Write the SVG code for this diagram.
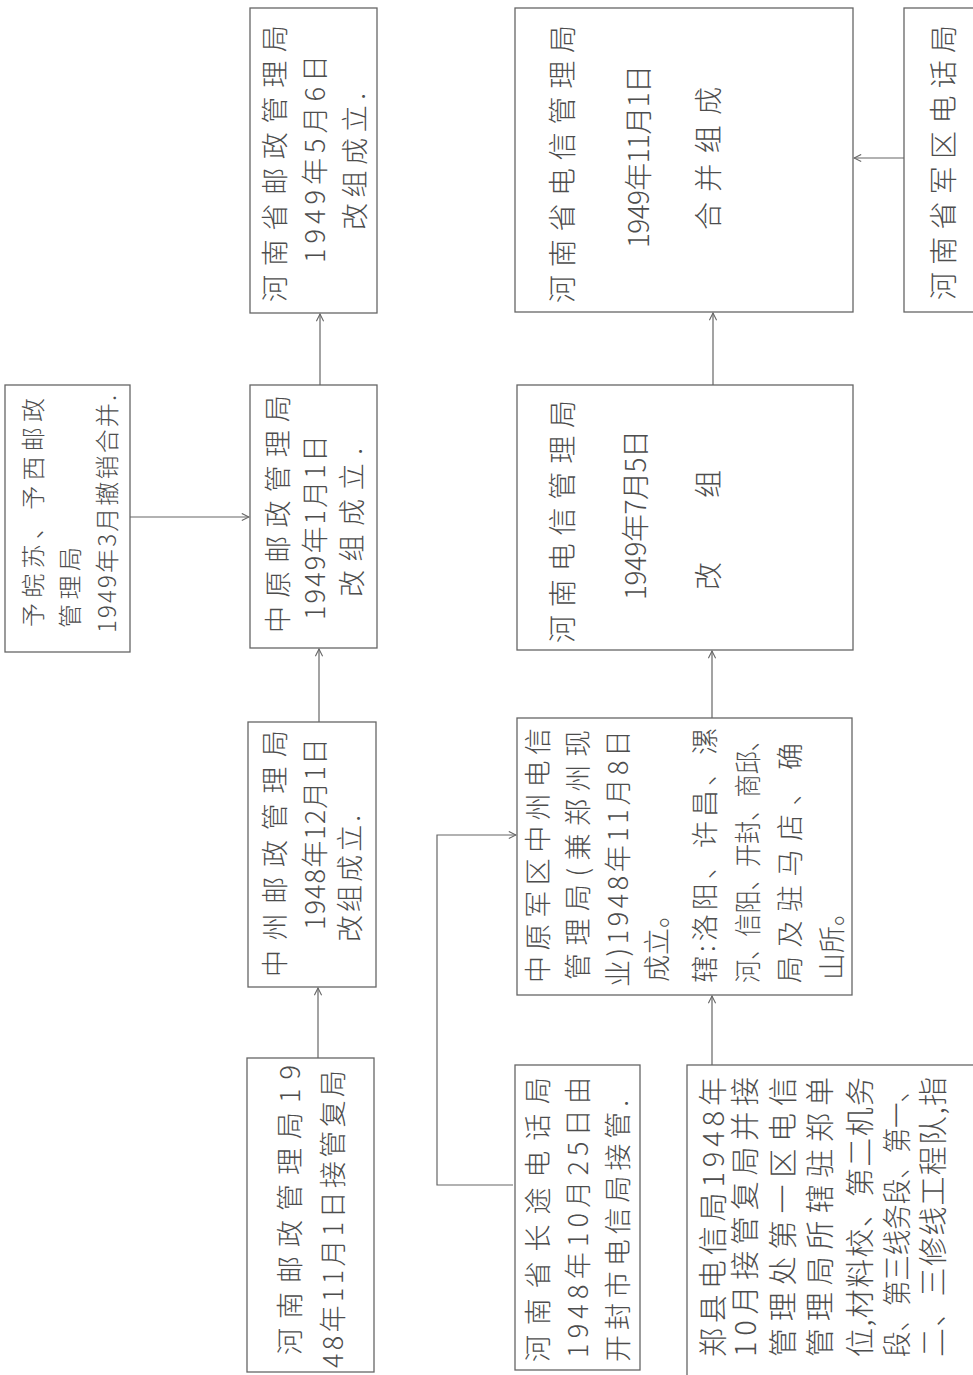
<svg xmlns="http://www.w3.org/2000/svg" width="973" height="1375" viewBox="0 0 973 1375">
<style>
.bg{fill:#ffffff}
.box{fill:none;stroke:#666;stroke-width:1.3}
.t{font-family:"Noto Sans CJK SC","Noto Sans CJK TC",sans-serif;fill:#4d4d4d;font-weight:300}
.s24{font-size:24px}
.s27{font-size:27px}
.s28{font-size:28px}
.s29{font-size:29px}
.c{fill:none;stroke:#666;stroke-width:1.2;marker-end:url(#ah)}
</style>
<defs>
<marker id="ah" viewBox="0 0 10 10" refX="9" refY="5" markerWidth="9" markerHeight="9" markerUnits="userSpaceOnUse" orient="auto">
<path d="M1,1 L9,5 L1,9" fill="none" stroke="#666" stroke-width="1.2"/>
</marker>
</defs>
<rect class="bg" x="0" y="0" width="973" height="1375"/>

<g id="n_yuwansu">
<rect class="box" x="5" y="385" width="125" height="267"/>
<text class="t s24" transform="translate(42,627) rotate(-90)" textLength="229" lengthAdjust="spacing">予皖苏、予西邮政</text>
<text class="t s24" transform="translate(79,628) rotate(-90)" textLength="81" lengthAdjust="spacing">管理局</text>
<text class="t s24" transform="translate(116,633) rotate(-90)" textLength="238" lengthAdjust="spacing">1949年3月撤销合并.</text>
</g>

<g id="n_henan_post_1949">
<rect class="box" x="250" y="8" width="127" height="305"/>
<text class="t s27" transform="translate(285,302) rotate(-90)" textLength="277" lengthAdjust="spacing">河南省邮政管理局</text>
<text class="t s27" transform="translate(325,263) rotate(-90)" textLength="208" lengthAdjust="spacing">1949年5月6日</text>
<text class="t s27" transform="translate(365,230) rotate(-90)" textLength="137" lengthAdjust="spacing">改组成立.</text>
</g>

<g id="n_zhongyuan_post">
<rect class="box" x="250" y="385" width="127" height="263"/>
<text class="t s27" transform="translate(288,633) rotate(-90)" textLength="238" lengthAdjust="spacing">中原邮政管理局</text>
<text class="t s27" transform="translate(325,620) rotate(-90)" textLength="185" lengthAdjust="spacing">1949年1月1日</text>
<text class="t s27" transform="translate(362,597) rotate(-90)" textLength="149" lengthAdjust="spacing">改组成立.</text>
</g>

<g id="n_zhongzhou_post">
<rect class="box" x="248" y="722" width="128" height="265"/>
<text class="t s27" transform="translate(285,977) rotate(-90)" textLength="247" lengthAdjust="spacing">中州邮政管理局</text>
<text class="t s27" transform="translate(325,930) rotate(-90)" textLength="192" lengthAdjust="spacing">1948年12月1日</text>
<text class="t s27" transform="translate(360,942) rotate(-90)" textLength="127" lengthAdjust="spacing">改组成立.</text>
</g>

<g id="n_henan_post_1948">
<rect class="box" x="247" y="1058" width="127" height="314"/>
<text class="t s27" transform="translate(300,1355) rotate(-90)" textLength="290" lengthAdjust="spacing">河南邮政管理局19</text>
<text class="t s27" transform="translate(343,1368) rotate(-90)" textLength="298" lengthAdjust="spacing">48年11月1日接管复局</text>
</g>

<g id="n_changtu">
<rect class="box" x="515" y="1065" width="125" height="305"/>
<text class="t s27" transform="translate(548,1362) rotate(-90)" textLength="285" lengthAdjust="spacing">河南省长途电话局</text>
<text class="t s27" transform="translate(588,1358) rotate(-90)" textLength="281" lengthAdjust="spacing">1948年10月25日由</text>
<text class="t s27" transform="translate(628,1362) rotate(-90)" textLength="262" lengthAdjust="spacing">开封市电信局接管.</text>
</g>

<g id="n_zhongzhou_telecom">
<rect class="box" x="517" y="718" width="335" height="277"/>
<text class="t s27" transform="translate(548,983) rotate(-90)" textLength="255" lengthAdjust="spacing">中原军区中州电信</text>
<text class="t s27" transform="translate(588,980) rotate(-90)" textLength="250" lengthAdjust="spacing">管理局(兼郑州现</text>
<text class="t s27" transform="translate(628,987) rotate(-90)" textLength="257" lengthAdjust="spacing">业)1948年11月8日</text>
<text class="t s27" transform="translate(667,982) rotate(-90)">成立。</text>
<text class="t s27" transform="translate(715,983) rotate(-90)" textLength="255" lengthAdjust="spacing">辖:洛阳、许昌、漯</text>
<text class="t s27" transform="translate(758,983) rotate(-90)" textLength="255" lengthAdjust="spacingAndGlyphs">河、信阳、开封、商邱、</text>
<text class="t s27" transform="translate(800,983) rotate(-90)" textLength="240" lengthAdjust="spacing">局及驻马店、确</text>
<text class="t s27" transform="translate(842,980) rotate(-90)">山所。</text>
</g>

<g id="n_henan_telecom">
<rect class="box" x="517" y="385" width="336" height="265"/>
<text class="t s28" transform="translate(573,643) rotate(-90)" textLength="243" lengthAdjust="spacing">河南电信管理局</text>
<text class="t s28" transform="translate(646,600) rotate(-90)" textLength="170" lengthAdjust="spacing">1949年7月5日</text>
<text class="t s28" transform="translate(719,590) rotate(-90)" textLength="120" lengthAdjust="spacing">改 组</text>
</g>

<g id="n_henan_prov_telecom">
<rect class="box" x="515" y="8" width="338" height="304"/>
<text class="t s28" transform="translate(573,303) rotate(-90)" textLength="278" lengthAdjust="spacing">河南省电信管理局</text>
<text class="t s28" transform="translate(649,248) rotate(-90)" textLength="183" lengthAdjust="spacing">1949年11月1日</text>
<text class="t s28" transform="translate(719,230) rotate(-90)" textLength="143" lengthAdjust="spacing">合并组成</text>
</g>

<g id="n_military_phone">
<rect class="box" x="904" y="8" width="100" height="304"/>
<text class="t s28" transform="translate(954,300) rotate(-90)" textLength="275" lengthAdjust="spacing">河南省军区电话局</text>
</g>

<g id="n_zhengxian">
<rect class="box" x="687" y="1065" width="320" height="340"/>
<text class="t s29" transform="translate(724,1357) rotate(-90)" textLength="280" lengthAdjust="spacing">郑县电信局1948年</text>
<text class="t s29" transform="translate(756,1357) rotate(-90)" textLength="280" lengthAdjust="spacing">10月接管复局并接</text>
<text class="t s29" transform="translate(794,1357) rotate(-90)" textLength="280" lengthAdjust="spacing">管理处第一区电信</text>
<text class="t s29" transform="translate(831,1357) rotate(-90)" textLength="280" lengthAdjust="spacing">管理局所辖驻郑单</text>
<text class="t s29" transform="translate(871,1357) rotate(-90)" textLength="280" lengthAdjust="spacing">位,材料校、第二机务</text>
<text class="t s29" transform="translate(908,1357) rotate(-90)" textLength="280" lengthAdjust="spacingAndGlyphs">段、第三线务段、第一、</text>
<text class="t s29" transform="translate(944,1357) rotate(-90)" textLength="280" lengthAdjust="spacing">二、三修线工程队,指</text>
</g>

<g id="connectors">
<path class="c" d="M130,517 H249"/>
<path class="c" d="M318,1058 V988"/>
<path class="c" d="M319,722 V649"/>
<path class="c" d="M320,385 V314"/>
<path class="c" d="M513,1185 H437 V835 H516"/>
<path class="c" d="M712,1065 V996"/>
<path class="c" d="M712,718 V651"/>
<path class="c" d="M713,385 V313"/>
<path class="c" d="M904,158 H854"/>
</g>
</svg>
